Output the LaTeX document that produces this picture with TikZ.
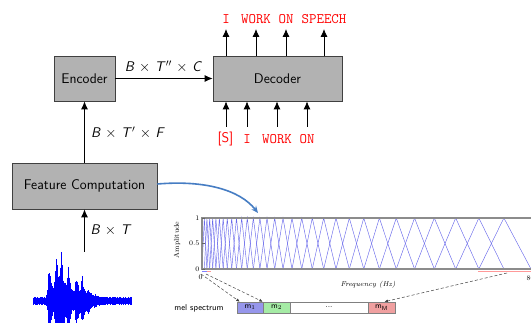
\documentclass[tikz,border=0pt]{standalone}
\usetikzlibrary{arrows.meta,calc}
\definecolor{flowblue}{RGB}{70,125,195}
\definecolor{filt}{RGB}{105,105,235}
\definecolor{mone}{RGB}{150,150,235}
\definecolor{mtwo}{RGB}{165,235,165}
\definecolor{mlast}{RGB}{240,160,160}
\begin{document}
\begin{tikzpicture}[x=1pt,y=-1pt,
  declare function={bu(\t)=(\t<0)*exp(min(max(\t/0.9,-12),0))+(\t>=0)*exp(-min(max(\t/3.0,0),12));
                    melx(\k)=202+329*(exp(2.52001*\k/32)-1)/11.4286;},
  box/.style={draw=black!75, fill=black!30, line width=0.8pt, inner sep=0pt, font=\fontsize{14}{17}\selectfont\sffamily},
  arr/.style={line width=0.8pt, -{Latex[length=8pt,width=7pt]}},
  lab/.style={font=\fontsize{14}{17}\selectfont\sffamily, inner sep=0pt},
  tok/.style={font=\fontsize{14.5}{17}\selectfont\ttfamily, text=red, inner sep=0pt},
  stok/.style={font=\fontsize{14}{17}\selectfont\sffamily, text=red, inner sep=0pt},
  wave/.style={blue, line width=0.9pt},
  plotlab/.style={font=\fontsize{7}{8}\selectfont, inner sep=0pt},
  dasharr/.style={densely dashed, black!75, line width=0.5pt, -{Latex[length=3.5pt,width=3pt]}},
  melbox/.style={draw=black!50, line width=0.6pt, minimum height=11pt, inner sep=0pt, font=\fontsize{8}{9}\selectfont\sffamily}]
\useasboundingbox (0,0) rectangle (531,323);
\clip (0,0) rectangle (531,323);

% main boxes
\node[box, minimum width=61pt, minimum height=45pt] (enc) at (84.5,78.5) {Encoder};
\node[box, minimum width=129pt, minimum height=45pt] (dec) at (277.5,78.5) {Decoder};
\node[box, minimum width=145pt, minimum height=46pt] (feat) at (84.5,186) {Feature Computation};

% connectors
\draw[arr] (enc) -- (dec);
\node[lab] (l1) at (163.5,67) {\textit{B} $\times$ \textit{T}$''$ $\times$ \textit{C}};
\draw[arr] (feat) -- (enc);
\node[lab] (l2) at (128,133) {\textit{B} $\times$ \textit{T}$'$ $\times$ \textit{F}};
\coordinate (w) at (84.5,252);
\draw[arr] (w) -- (feat);
\node[lab] (l3) at (111,230) {\textit{B} $\times$ \textit{T}};

% output tokens
\node[tok] (t1) at (226,19) {I};
\node[tok] (t2) at (256,19) {WORK};
\node[tok] (t3) at (286,19) {ON};
\node[tok] (t4) at (324,19) {SPEECH};
\foreach \n/\x in {1/226,2/256,3/286,4/324}{
  \coordinate (o\n) at (\x,29);
  \draw[arr] (dec.north -| o\n) -- (o\n);
}
% input tokens
\node[stok] (s1) at (225.5,139) {[S]};
\node[tok] (s2) at (247,139) {I};
\node[tok] (s3) at (277,139) {WORK};
\node[tok] (s4) at (307,139) {ON};
\foreach \n/\x in {1/226,2/247,3/277,4/307}{
  \coordinate (i\n) at (\x,127);
  \draw[arr] (i\n) -- (dec.south -| i\n);
}

% waveform
\pgfmathsetseed{12}
\foreach \x in {33,33.35,...,132}{
  \pgfmathsetmacro\env{3.8+34*bu(\x-49)+44*bu(\x-56)+44*bu(\x-61)+28*bu(\x-68)+24*bu(\x-76)+18*bu(\x-82)+8*bu(\x-88)+3*bu(\x-95)}
  \pgfmathsetmacro\ra{\env*(0.65+0.35*rnd)}
  \pgfmathsetmacro\rb{\env*(0.65+0.35*rnd)}
  \draw[wave] (\x,301-\ra) -- (\x,301+\rb);
}

% curved arrow
\coordinate (ct) at (258,213);
\draw[flowblue, line width=1.6pt, -{Stealth[length=7pt,width=6pt]}] ([yshift=2pt]feat.east) .. controls (205,180) and (240,190) .. (ct);

% mel filterbank
\foreach \i in {1,...,31}{
  \pgfmathsetmacro\xa{melx(\i-1)}
  \pgfmathsetmacro\xb{melx(\i)}
  \pgfmathsetmacro\xc{melx(\i+1)}
  \draw[filt, line width=0.45pt] (\xa,269) -- (\xb,218) -- (\xc,269);
}
\draw[black!45, line width=1.1pt] (540,218) -- (202,218) -- (202,269) -- (540,269);
\foreach \y in {218,243.5,269} \draw[black!60, line width=0.4pt] (202,\y) -- (204.5,\y);
\node[plotlab, anchor=east] (y1) at (199.5,218) {1};
\node[plotlab, anchor=east] (y2) at (199.5,243.5) {0.5};
\node[plotlab, anchor=east] (y0) at (199.5,269) {0};
\node[plotlab, rotate=90] (ya) at (177,240) {Amplitude};
\node[plotlab] (x0) at (200.5,277) {0};
\node[plotlab, anchor=west] (x8) at (526.5,278) {8000};
\node[plotlab] (xl) at (368,285) {\itshape Frequency (Hz)};
\draw[red!40, line width=1pt] (478,272) -- (540,272);
\draw[blue!50, line width=1pt] (202,272) -- (206.5,272);
\draw[red!40, line width=1pt] (207,272) -- (211,272);

% mel spectrum
\node[font=\fontsize{8.5}{10}\selectfont\sffamily, inner sep=0pt] (ms) at (199,308) {mel spectrum};
\node[melbox, fill=mone, minimum width=26pt] (m1) at (250,307.5) {m$_1$};
\node[melbox, fill=mtwo, minimum width=27pt] (m2) at (276.5,307.5) {m$_2$};
\node[melbox, fill=white, minimum width=78pt] (md) at (329,307.5) {...};
\node[melbox, fill=mlast, minimum width=27pt] (mM) at (381.5,307.5) {m$_{\mathsf{M}}$};
\coordinate (a1) at (201,274);
\coordinate (a2) at (206,274);
\coordinate (a3) at (507,273);
\draw[dasharr] (a1) -- ([xshift=3pt]m1.north west);
\draw[dasharr] (a2) -- (m2.north west);
\draw[dasharr] (a3) -- ([xshift=3pt]mM.north);
\end{tikzpicture}
\end{document}
